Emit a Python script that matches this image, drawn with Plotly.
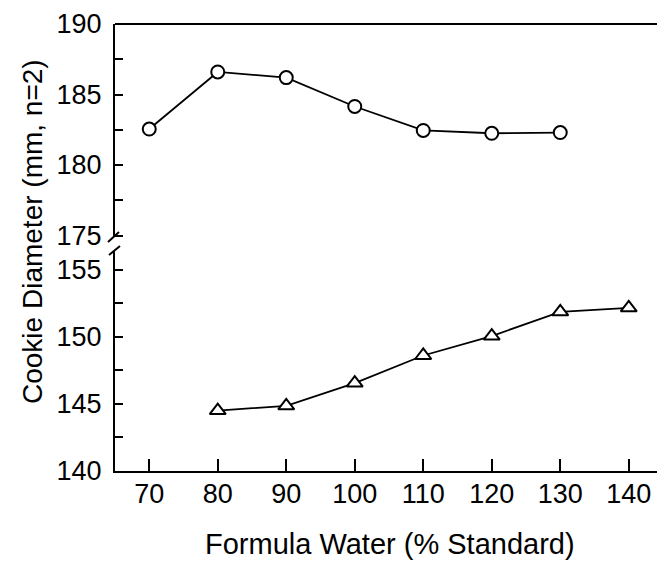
import plotly.graph_objects as go

# Data
water_circle = [70, 80, 90, 100, 110, 120, 130]
diam_circle = [182.55, 186.6, 186.2, 184.15, 182.45, 182.25, 182.3]
water_tri = [80, 90, 100, 110, 120, 130, 140]
diam_tri = [144.5, 144.85, 146.55, 148.6, 150.05, 151.85, 152.15]

x_ticks = [70, 80, 90, 100, 110, 120, 130, 140]
y_top_ticks = [175, 177.5, 180, 182.5, 185, 187.5, 190]
y_top_text = ["175", "", "180", "", "185", "", "190"]
y_bot_ticks = [140, 142.5, 145, 147.5, 150, 152.5, 155]
y_bot_text = ["140", "", "145", "", "150", "", "155"]

FONT = "Arial, Liberation Sans, Helvetica, sans-serif"

# The page body has an 8px default margin, so the figure is drawn 8px in/down.
OFF = 8
# reference pixel geometry (plot area: x 115..663, y 24..471 in the 665x565 window)
PL, PR, PT, PB = 115, 663, 24, 471
W, H = PR - PL, PB - PT
FIG_W, FIG_H = 665 - OFF, 565 - OFF
def px(x):
    return (x - PL) / W
def py(y):
    return (PB - y) / H

fig = go.Figure()
fig.add_trace(go.Scatter(
    x=water_circle, y=diam_circle, yaxis="y2", mode="lines+markers",
    line=dict(color="black", width=1.8),
    marker=dict(symbol="circle", size=13, color="white", line=dict(color="black", width=2)),
    showlegend=False))
fig.add_trace(go.Scatter(
    x=water_tri, y=diam_tri, yaxis="y", mode="lines+markers",
    line=dict(color="black", width=1.8),
    marker=dict(symbol="triangle-up", size=14, color="white", line=dict(color="black", width=2)),
    showlegend=False))

axis_common = dict(showgrid=False, zeroline=False, showline=True, linecolor="black",
                   linewidth=2, ticks="inside", tickcolor="black",
                   tickfont=dict(family=FONT, size=27, color="black"))

fig.update_layout(
    width=FIG_W, height=FIG_H,
    margin=dict(l=PL - OFF, r=665 - PR, t=PT - OFF, b=565 - PB),
    paper_bgcolor="white", plot_bgcolor="white",
    font=dict(family=FONT, color="black"),
    xaxis=dict(range=[65, 145], tickvals=x_ticks, ticklen=12, tickwidth=1.5,
               anchor="y", ticklabelstandoff=-2, **axis_common),
    yaxis=dict(domain=[0, py(251)], range=[140, 140 + (PB - 251) / 13.43],
               tickvals=y_bot_ticks, ticktext=y_bot_text, ticklen=8, tickwidth=1.5,
               ticklabelstandoff=6, anchor="x", **axis_common),
    yaxis2=dict(domain=[py(237), 1], range=[190 - (237 - PT) / 14.1, 190],
                tickvals=y_top_ticks, ticktext=y_top_text, ticklen=8, tickwidth=1.5,
                ticklabelstandoff=6, anchor="x", **axis_common),
)

line = dict(color="black", width=2)
shapes = [
    dict(type="line", xref="paper", yref="paper", x0=0, x1=1, y0=1, y1=1, line=line),
    dict(type="line", xref="paper", yref="paper", x0=1, x1=1, y0=1, y1=py(244), line=line),
    dict(type="line", xref="paper", yref="paper", x0=1, x1=1, y0=0, y1=py(258), line=line),
    # break marks left
    dict(type="line", xref="paper", yref="paper", x0=px(108), x1=px(119), y0=py(242), y1=py(232), line=line),
    dict(type="line", xref="paper", yref="paper", x0=px(109), x1=px(120), y0=py(255), y1=py(246), line=line),
    # break marks right
    dict(type="line", xref="paper", yref="paper", x0=px(658), x1=px(665), y0=py(247), y1=py(240), line=line),
    dict(type="line", xref="paper", yref="paper", x0=px(658), x1=px(665), y0=py(263), y1=py(256), line=line),
]
fig.update_layout(shapes=shapes)

fig.add_annotation(text="Formula Water (% Standard)", xref="paper", yref="paper",
                   x=px(390), y=py(544), showarrow=False, xanchor="center", yanchor="middle",
                   font=dict(family=FONT, size=29, color="black"))
fig.add_annotation(text="Cookie Diameter (mm, n=2)", xref="paper", yref="paper",
                   x=px(32), y=py(232), showarrow=False, textangle=-90,
                   xanchor="center", yanchor="middle",
                   font=dict(family=FONT, size=28, color="black"))

fig.write_html("out.html")
